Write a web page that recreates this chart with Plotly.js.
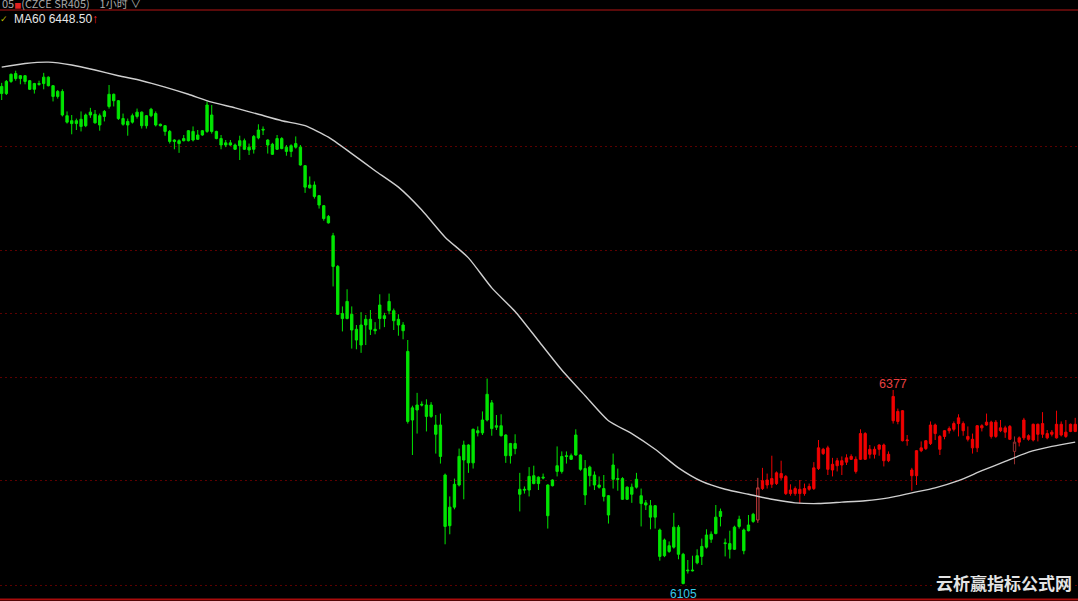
<!DOCTYPE html>
<html>
<head>
<meta charset="utf-8">
<script src="https://cdn.plot.ly/plotly-3.0.1.min.js"></script>
<style>
html,body{margin:0;padding:0;background:#000;}
#chart{width:1078px;height:601px;}
</style>
</head>
<body>
<div id="chart"></div>
<script>
// ---- Data (1-hour bars, CZCE SR405) ----
const highs = [
6807,6811,6820,6824,6818,6818,6811,6807,6810,6821,
6816,6804,6797,6798,6767,6762,6757,6767,6764,6772,
6769,6764,6769,6804,6792,6783,6764,6757,6764,6771,
6767,6762,6772,6767,6750,6748,6741,6728,6728,6734,
6741,6746,6741,6741,6781,6776,6740,6734,6727,6727,
6722,6733,6729,6722,6734,6749,6746,6728,6723,6734,
6731,6720,6721,6732,6720,6692,6676,6669,6650,6636,
6622,6597,6552,6494,6518,6494,6468,6486,6482,6489,
6472,6511,6485,6512,6491,6483,6472,6447,6355,6373,
6361,6364,6360,6342,6344,6260,6228,6253,6295,6306,
6301,6323,6326,6347,6393,6363,6342,6343,6315,6303,
6315,6261,6242,6269,6271,6256,6260,6245,6252,6298,
6291,6291,6288,6322,6287,6279,6271,6263,6256,6258,
6230,6288,6267,6255,6242,6246,6261,6239,6223,6223,
6216,6183,6169,6165,6205,6188,6149,6139,6145,6154,
6169,6182,6179,6216,6211,6169,6180,6187,6201,6183,
6202,6205,6254,6268,6260,6285,6263,6278,6258,6245,
6242,6251,6246,6246,6276,6307,6296,6299,6282,6282,
6284,6287,6287,6284,6322,6318,6300,6298,6301,6302,
6291,6377,6351,6349,6314,6268,6293,6305,6307,6333,
6330,6314,6321,6326,6333,6343,6333,6326,6316,6328,
6329,6344,6334,6335,6335,6327,6328,6312,6312,6338,
6315,6330,6330,6346,6321,6321,6348,6333,6335,6330,6338
];
const lows = [
6783,6790,6807,6810,6805,6805,6797,6792,6803,6798,
6802,6781,6785,6760,6750,6735,6741,6739,6745,6758,
6750,6740,6753,6771,6774,6755,6747,6733,6750,6757,
6743,6743,6759,6746,6746,6733,6722,6714,6709,6725,
6725,6725,6727,6733,6737,6736,6728,6714,6717,6719,
6713,6699,6713,6706,6708,6728,6734,6708,6706,6713,
6714,6705,6703,6715,6691,6653,6659,6645,6631,6614,
6610,6522,6482,6459,6476,6435,6434,6429,6440,6454,
6455,6462,6465,6483,6461,6453,6448,6330,6286,6316,
6354,6319,6338,6288,6274,6161,6175,6210,6242,6224,
6261,6267,6312,6314,6333,6313,6321,6312,6275,6274,
6287,6207,6232,6228,6245,6237,6252,6183,6242,6256,
6260,6274,6279,6285,6264,6216,6242,6237,6239,6221,
6190,6239,6236,6223,6223,6219,6239,6186,6209,6182,
6183,6138,6143,6149,6155,6140,6105,6120,6123,6133,
6132,6155,6163,6175,6186,6144,6141,6153,6183,6147,
6179,6191,6191,6237,6239,6240,6244,6251,6230,6229,
6229,6218,6229,6236,6237,6265,6286,6258,6256,6263,
6258,6272,6279,6260,6279,6279,6281,6281,6285,6270,
6276,6330,6329,6305,6299,6236,6244,6290,6293,6300,
6307,6286,6308,6316,6319,6312,6313,6305,6288,6290,
6319,6327,6309,6310,6318,6310,6307,6273,6298,6307,
6306,6305,6305,6310,6308,6312,6309,6312,6310,6318,6318
];
const opens = [
6802,6809,6819,6820,6817,6817,6810,6806,6806,6815,
6815,6803,6795,6795,6761,6754,6754,6756,6762,6766,
6763,6761,6767,6791,6791,6782,6757,6753,6761,6766,
6766,6761,6770,6764,6749,6747,6739,6727,6726,6729,
6740,6739,6734,6740,6776,6762,6739,6729,6723,6723,
6720,6726,6726,6717,6732,6741,6742,6727,6721,6729,
6729,6717,6719,6722,6717,6691,6664,6664,6649,6635,
6620,6593,6550,6484,6501,6483,6462,6468,6476,6476,
6462,6496,6481,6501,6488,6476,6468,6431,6352,6356,
6357,6356,6356,6328,6328,6258,6213,6245,6284,6300,
6300,6322,6320,6335,6371,6359,6327,6327,6314,6302,
6302,6238,6238,6256,6257,6255,6255,6244,6251,6271,
6284,6285,6285,6314,6286,6267,6269,6258,6244,6239,
6229,6272,6253,6253,6241,6241,6252,6229,6219,6215,
6215,6181,6167,6159,6185,6185,6147,6125,6125,6145,
6158,6174,6175,6199,6207,6163,6162,6185,6196,6181,
6188,6203,6195,6239,6244,6245,6246,6254,6232,6232,
6232,6232,6232,6238,6239,6267,6288,6266,6265,6271,
6272,6276,6280,6263,6280,6280,6287,6287,6294,6278,
6278,6334,6333,6306,6306,6257,6257,6292,6295,6302,
6316,6294,6312,6320,6322,6330,6320,6308,6296,6296,
6324,6328,6312,6312,6320,6318,6308,6291,6304,6310,
6308,6307,6315,6315,6310,6315,6310,6314,6312,6319,6319
];
const closes = [
6792,6792,6809,6813,6813,6809,6798,6798,6805,6806,
6803,6788,6788,6762,6752,6750,6750,6746,6747,6762,
6751,6748,6760,6774,6782,6757,6749,6748,6752,6760,
6747,6747,6761,6748,6747,6739,6725,6725,6722,6726,
6726,6727,6728,6734,6739,6739,6729,6720,6720,6720,
6714,6719,6714,6713,6714,6730,6741,6720,6707,6714,
6715,6711,6711,6717,6692,6661,6660,6648,6636,6617,
6611,6550,6483,6477,6477,6461,6447,6440,6468,6462,
6460,6477,6477,6488,6474,6468,6460,6333,6335,6349,
6356,6340,6340,6315,6284,6186,6187,6213,6244,6279,
6275,6275,6317,6317,6335,6323,6325,6313,6285,6285,
6295,6231,6237,6237,6246,6246,6254,6201,6243,6263,
6263,6284,6280,6286,6266,6230,6257,6244,6241,6228,
6202,6252,6252,6224,6224,6231,6241,6218,6216,6199,
6199,6144,6145,6151,6157,6147,6106,6124,6124,6135,
6144,6157,6168,6176,6200,6162,6154,6154,6186,6152,
6180,6193,6240,6250,6251,6253,6261,6260,6256,6237,
6239,6238,6239,6242,6268,6296,6294,6296,6273,6278,
6278,6282,6284,6280,6316,6316,6294,6294,6300,6300,
6287,6368,6347,6348,6307,6265,6292,6296,6306,6328,
6328,6312,6320,6323,6330,6338,6330,6312,6308,6327,
6327,6332,6332,6332,6324,6324,6326,6304,6310,6335,
6313,6329,6329,6330,6316,6318,6329,6329,6318,6329,6329
];
// MA60 read at sampled bars
const maBars = [0,5,10,15,20,25,30,35,40,45,50,55,60,65,70,75,80,85,90,95,100,105,110,115,120,125,130,135,140,145,150,155,160,165,170,175,180,185,190,195,200,205,210,215,220,225,230];
const maValues = [6829,6834,6836,6832,6825,6817,6810,6801,6791,6780,6772,6763,6754,6747,6731,6708,6684,6661,6629,6591,6562,6520,6487,6446,6405,6369,6334,6316,6294,6268,6249,6238,6231,6224,6219,6218,6220,6222,6226,6233,6240,6250,6264,6277,6290,6298,6304];
const gridLevels = [6718, 6573, 6484, 6395, 6250, 6104];
const trendFlipBar = 162;          // colour switches from green to red here
const hollowBars = [162, 217];     // outlined (hollow) bars
const highMarkBar = 191;           // bar carrying the "6377" marker
const lowMarkBar = 146;            // bar carrying the "6105" marker
const maLabel = 'MA60 6448.50';
const highLabel = '6377';
const lowLabel = '6105';

// ---- Build traces ----
const bars = highs.map((_, i) => i);
function pick(test) {
  const s = {x: [], open: [], high: [], low: [], close: []};
  bars.forEach(i => {
    if (test(i)) {
      s.x.push(i); s.open.push(opens[i]); s.high.push(highs[i]);
      s.low.push(lows[i]); s.close.push(closes[i]);
    }
  });
  return s;
}
function candle(sel, line, fill) {
  return Object.assign({
    type: 'candlestick',
    whiskerwidth: 0,
    increasing: {line: {color: line, width: 1}, fillcolor: fill},
    decreasing: {line: {color: line, width: 1}, fillcolor: fill},
    hoverinfo: 'none',
    showlegend: false
  }, sel);
}
const GREEN = '#00e600', RED = '#f00000';
const traces = [
  candle(pick(i => i < trendFlipBar), GREEN, GREEN),
  candle(pick(i => i >= trendFlipBar && !hollowBars.includes(i)), RED, RED),
  candle(pick(i => i === hollowBars[0]), '#c83c3c', '#000000'),
  candle(pick(i => i === hollowBars[1]), '#963030', '#000000'),
  {
    type: 'scatter', mode: 'lines', x: maBars, y: maValues,
    line: {color: '#cfcfcf', width: 1.4, shape: 'spline', smoothing: 0.6},
    hoverinfo: 'none', showlegend: false
  }
];

const layout = {
  width: 1078, height: 601,
  paper_bgcolor: '#000000', plot_bgcolor: '#000000',
  margin: {l: 0, r: 0, t: 10, b: 2, pad: 0},
  showlegend: false,
  boxmode: 'overlay', boxgap: 0.5, boxgroupgap: 0,
  xaxis: {
    range: [-0.364, 230.6], visible: false, fixedrange: true,
    rangeslider: {visible: false}
  },
  yaxis: {
    range: [6084.4, 6909], tickvals: gridLevels, showticklabels: false,
    ticks: '', showgrid: true, gridcolor: '#5c0000', griddash: '2px,3px', gridwidth: 1,
    zeroline: false, showline: false, fixedrange: true
  },
  shapes: [
    {type: 'line', xref: 'paper', yref: 'paper', x0: 0, x1: 1, y0: 1, y1: 1,
     line: {color: '#5a0a0a', width: 2}},
    {type: 'line', xref: 'paper', yref: 'paper', x0: 0, x1: 1, y0: -0.0008, y1: -0.0008,
     line: {color: '#a80c0c', width: 2}}
  ],
  annotations: [
    {xref: 'paper', yref: 'paper', x: 0, y: 1.0115, xanchor: 'left', yanchor: 'middle',
     showarrow: false, align: 'left',
     text: '05<span style="color:#e02020;font-size:7px">■</span>(CZCE SR405)&nbsp;&nbsp;&nbsp;&nbsp;1小时 ∨',
     font: {family: 'Noto Sans CJK SC, Liberation Sans, sans-serif', size: 11, color: '#a8a8a8'}},
    {xref: 'paper', yref: 'paper', x: -0.002, y: 0.985, xanchor: 'left', yanchor: 'middle',
     showarrow: false, text: '✓',
     font: {family: 'DejaVu Sans, sans-serif', size: 9, color: '#b8b800'}},
    {xref: 'paper', yref: 'paper', x: 0.0111, y: 0.9847, xanchor: 'left', yanchor: 'middle',
     showarrow: false,
     text: maLabel + '<span style="color:#ff2020">↑</span>',
     font: {family: 'Liberation Sans, Arial, sans-serif', size: 12, color: '#e6e6e6'}},
    {x: highMarkBar, y: highs[highMarkBar], xref: 'x', yref: 'y', showarrow: false,
     yanchor: 'bottom', yshift: -3, text: highLabel,
     font: {family: 'Liberation Sans, Arial, sans-serif', size: 12.5, color: '#e84040'}},
    {x: lowMarkBar, y: lows[lowMarkBar], xref: 'x', yref: 'y', showarrow: false,
     yanchor: 'top', yshift: -1, text: lowLabel,
     font: {family: 'Liberation Sans, Arial, sans-serif', size: 12, color: '#38c8e8'}},
    {xref: 'paper', yref: 'paper', x: 0.9965, y: 0.0272, xanchor: 'right', yanchor: 'middle',
     showarrow: false, text: '<b>云析赢指标公式网</b>', bgcolor: '#000000', borderpad: 1,
     font: {family: 'Noto Sans CJK SC, sans-serif', size: 17, color: '#e4e4e4'}}
  ]
};

Plotly.newPlot('chart', traces, layout, {displayModeBar: false, staticPlot: true});
</script>
</body>
</html>
